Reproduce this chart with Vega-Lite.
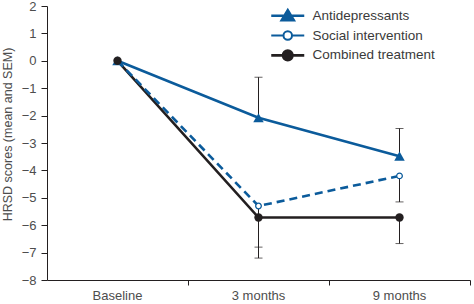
{
  "$schema": "https://vega.github.io/schema/vega-lite/v6.json",
  "width": 423,
  "height": 274,
  "autosize": {"type": "none"},
  "padding": {"left": 47, "top": 6, "right": 4, "bottom": 24},
  "background": "white",
  "config": {
    "view": {"stroke": null},
    "font": "Liberation Sans",
    "axis": {
      "grid": false,
      "domainColor": "#231f20",
      "tickColor": "#231f20",
      "labelColor": "#4d4d4d",
      "titleColor": "#4d4d4d",
      "labelFont": "Liberation Sans",
      "titleFont": "Liberation Sans",
      "labelFontSize": 13,
      "titleFontSize": 12.5,
      "titleFontWeight": "normal",
      "domainWidth": 1,
      "tickWidth": 1,
      "labelOverlap": false
    },
    "axisY": {"tickCount": 12}
  },
  "data": {
    "values": [
      {"time": "Baseline", "group": "Antidepressants", "mean": 0, "err": null},
      {"time": "3 months", "group": "Antidepressants", "mean": -2.08, "err": -0.6},
      {"time": "9 months", "group": "Antidepressants", "mean": -3.48, "err": -2.47},
      {"time": "Baseline", "group": "Social intervention", "mean": 0, "err": null},
      {"time": "3 months", "group": "Social intervention", "mean": -5.3, "err": -6.8},
      {"time": "9 months", "group": "Social intervention", "mean": -4.2, "err": -5.15},
      {"time": "Baseline", "group": "Combined treatment", "mean": 0, "err": null},
      {"time": "3 months", "group": "Combined treatment", "mean": -5.72, "err": -7.2},
      {"time": "9 months", "group": "Combined treatment", "mean": -5.72, "err": -6.67}
    ]
  },
  "encoding": {
    "x": {
      "field": "time",
      "type": "nominal",
      "sort": ["Baseline", "3 months", "9 months"],
      "scale": {"type": "band", "paddingInner": 0, "paddingOuter": 0},
      "axis": {"title": null, "labelAngle": 0, "bandPosition": 1, "tickSize": 5, "labelPadding": 4}
    }
  },
  "layer": [
    {
      "transform": [{"filter": "datum.err != null"}],
      "mark": {"type": "rule", "color": "#231f20", "strokeWidth": 1},
      "encoding": {
        "y": {"field": "mean", "type": "quantitative", "scale": {"domain": [-8, 2], "nice": false},
          "axis": {"values": [-8, -7, -6, -5, -4, -3, -2, -1, 0, 1, 2], "tickCount": 12, "title": "HRSD scores (mean and SEM)", "tickSize": 6, "labelPadding": 5, "titlePadding": 7, "titleY": 128}},
        "y2": {"field": "err"}
      }
    },
    {
      "transform": [{"filter": "datum.err != null"}],
      "mark": {"type": "tick", "color": "#231f20", "size": 8, "thickness": 1, "orient": "horizontal"},
      "encoding": {
        "y": {"field": "err", "type": "quantitative", "scale": {"domain": [-8, 2], "nice": false},
          "axis": {"values": [-8, -7, -6, -5, -4, -3, -2, -1, 0, 1, 2], "tickCount": 12, "title": "HRSD scores (mean and SEM)", "tickSize": 6, "labelPadding": 5, "titlePadding": 7, "titleY": 128}}
      }
    },
    {
      "transform": [{"filter": "datum.group !== 'Social intervention'"}],
      "mark": {"type": "line", "strokeWidth": 2.6},
      "encoding": {
        "y": {"field": "mean", "type": "quantitative", "scale": {"domain": [-8, 2], "nice": false},
          "axis": {"values": [-8, -7, -6, -5, -4, -3, -2, -1, 0, 1, 2], "tickCount": 12, "title": "HRSD scores (mean and SEM)", "tickSize": 6, "labelPadding": 5, "titlePadding": 7, "titleY": 128}},
        "color": {
          "field": "group",
          "type": "nominal",
          "scale": {"domain": ["Antidepressants", "Social intervention", "Combined treatment"], "range": ["#0b5b9b", "#0b5b9b", "#231f20"]},
          "legend": {
            "orient": "none",
            "legendX": 222,
            "legendY": 3,
            "title": null,
            "padding": 0,
            "symbolSize": 100,
            "symbolOffset": 12,
            "labelOffset": 18,
            "rowPadding": 0.8,
            "labelFont": "Liberation Sans",
            "labelFontSize": 13.5,
            "labelColor": "#3a3a3a",
            "encode": {
              "symbols": {
                "update": {
                  "shape": {"signal": "datum.value === 'Antidepressants' ? 'M-3.3,0H3.3M0,-1.1L1.2,0.9L-1.2,0.9Z' : datum.value === 'Social intervention' ? 'M-3.3,0H-0.9M0.9,0H3.3M0.85,0A0.85,0.85,0,1,1,-0.85,0A0.85,0.85,0,1,1,0.85,0Z' : 'M-3.3,0H3.3M0.95,0A0.95,0.95,0,1,1,-0.95,0A0.95,0.95,0,1,1,0.95,0Z'"},
                  "fill": {"signal": "datum.value === 'Antidepressants' ? '#0b5b9b' : datum.value === 'Social intervention' ? '#ffffff' : '#231f20'"},
                  "stroke": {"signal": "datum.value === 'Combined treatment' ? '#231f20' : '#0b5b9b'"},
                  "strokeWidth": {"signal": "datum.value === 'Social intervention' ? 2 : 2.6"},
                  "opacity": {"value": 1},
                  "fillOpacity": {"value": 1}
                }
              }
            }
          }
        }
      }
    },
    {
      "transform": [{"filter": "datum.group === 'Social intervention'"}],
      "mark": {"type": "line", "strokeWidth": 2.6, "strokeDash": [8, 5], "color": "#0b5b9b"},
      "encoding": {
        "y": {"field": "mean", "type": "quantitative", "scale": {"domain": [-8, 2], "nice": false},
          "axis": {"values": [-8, -7, -6, -5, -4, -3, -2, -1, 0, 1, 2], "tickCount": 12, "title": "HRSD scores (mean and SEM)", "tickSize": 6, "labelPadding": 5, "titlePadding": 7, "titleY": 128}}
      }
    },
    {
      "transform": [{"filter": "datum.group === 'Antidepressants'"}],
      "mark": {"type": "point", "shape": "triangle-up", "filled": true, "color": "#0b5b9b", "size": 110, "opacity": 1},
      "encoding": {
        "y": {"field": "mean", "type": "quantitative", "scale": {"domain": [-8, 2], "nice": false},
          "axis": {"values": [-8, -7, -6, -5, -4, -3, -2, -1, 0, 1, 2], "tickCount": 12, "title": "HRSD scores (mean and SEM)", "tickSize": 6, "labelPadding": 5, "titlePadding": 7, "titleY": 128}}
      }
    },
    {
      "transform": [{"filter": "datum.group === 'Social intervention'"}],
      "mark": {"type": "point", "shape": "circle", "filled": false, "fill": "#ffffff", "stroke": "#0b5b9b", "strokeWidth": 1.3, "size": 32, "opacity": 1},
      "encoding": {
        "y": {"field": "mean", "type": "quantitative", "scale": {"domain": [-8, 2], "nice": false},
          "axis": {"values": [-8, -7, -6, -5, -4, -3, -2, -1, 0, 1, 2], "tickCount": 12, "title": "HRSD scores (mean and SEM)", "tickSize": 6, "labelPadding": 5, "titlePadding": 7, "titleY": 128}}
      }
    },
    {
      "transform": [{"filter": "datum.group === 'Combined treatment'"}],
      "mark": {"type": "point", "shape": "circle", "filled": true, "color": "#231f20", "size": 70, "opacity": 1},
      "encoding": {
        "y": {"field": "mean", "type": "quantitative", "scale": {"domain": [-8, 2], "nice": false},
          "axis": {"values": [-8, -7, -6, -5, -4, -3, -2, -1, 0, 1, 2], "tickCount": 12, "title": "HRSD scores (mean and SEM)", "tickSize": 6, "labelPadding": 5, "titlePadding": 7, "titleY": 128}}
      }
    }
  ]
}
